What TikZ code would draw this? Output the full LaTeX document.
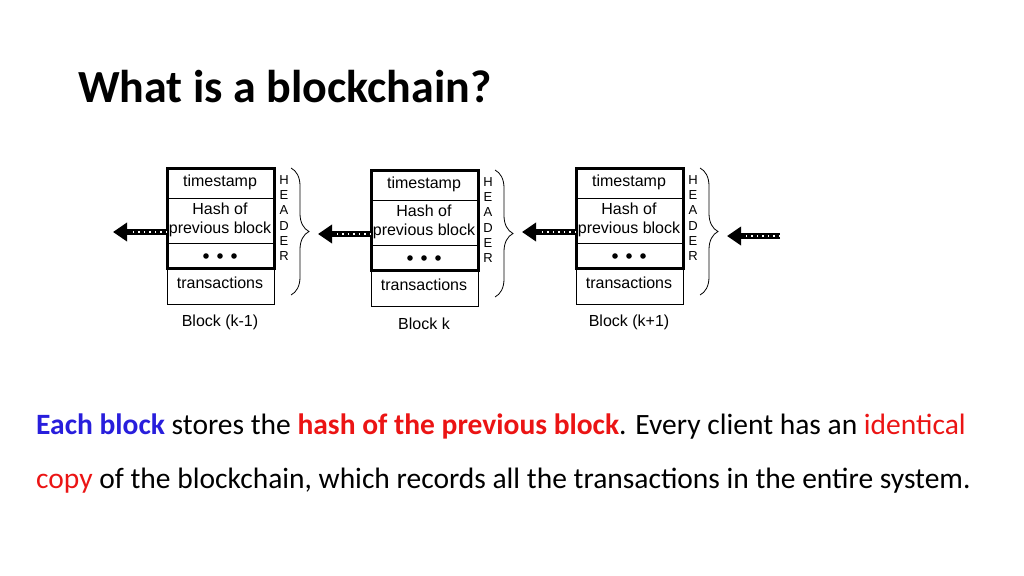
\documentclass[tikz,border=0pt]{standalone}
\usepackage{fontspec}
\setmainfont{Carlito}
\newfontfamily\diag{Liberation Sans}
\usetikzlibrary{arrows.meta,decorations.pathreplacing,calc}
\definecolor{eblue}{RGB}{40,30,220}
\definecolor{ered}{RGB}{235,20,20}
\begin{document}
\begin{tikzpicture}[x=1pt,y=-1pt,
  cell/.style={draw,line width=0.8pt},
  hdr/.style={draw,line width=3pt},
  lbl/.style={font=\diag\fontsize{16}{18.5}\selectfont,inner sep=0},
  chain/.style={line width=6pt,-{Triangle[length=14pt,width=18pt]}},
  dots/.style={white,line width=1.2pt,dash pattern=on 1.5pt off 4pt}]
\useasboundingbox (0,0) rectangle (1024,575);
\node[anchor=west,font=\bfseries\fontsize{46}{50}\selectfont,inner sep=0] (title) at (78,87) {What is a blockchain?};
\foreach \n/\x/\y/\name in {a/167/168/Block (k-1),b/371/170/Block k,c/576/168/Block (k+1)}{
  \draw[cell] (\x,\y+100) rectangle (\x+107,\y+136);
  \draw[cell] (\x,\y+30) -- (\x+107,\y+30);
  \draw[cell] (\x,\y+75) -- (\x+107,\y+75);
  \draw[hdr] (\x,\y) rectangle (\x+107,\y+100);
  \coordinate (\n L) at (\x,\y+64);
  \node[lbl] (\n t) at (\x+53,\y+14) {timestamp};
  \node[lbl,align=center] (\n h) at (\x+53,\y+52) {Hash of\\previous block};
  \foreach \d in {-14,0,14}{\fill (\x+53+\d,\y+88) circle (2.8pt);}
  \node[lbl] (\n x) at (\x+53,\y+115) {transactions};
  \node[lbl] (\n n) at (\x+53,\y+154) {\name};
  \node[lbl,font=\diag\fontsize{13}{15.3}\selectfont,align=center] (\n H) at (\x+117,\y+50) {H\\E\\A\\D\\E\\R};
  \draw[line width=0.8pt,decorate,decoration={brace,amplitude=18pt}] (\x+124,\y) -- (\x+124,\y+127);
  \coordinate (\n T) at (\x+151,\y+64);
}
\coordinate (s) at (113,232);
\coordinate (e) at (780,236);
\foreach \p/\q in {aL/s,bL/aT,cL/bT,e/cT}{
  \draw[chain] (\p) -- (\q |- \p);
  \draw[dots] (\p) -- ($(\p)!0.7!(\q |- \p)$);
}
\node[anchor=west,inner sep=0,font=\fontsize{29.5}{34}\selectfont] (l1) at (36,427) {\textbf{\color{eblue}Each block} stores the \textbf{\color{ered}hash of the previous block}. Every client has an {\color{ered}identical}};
\node[anchor=west,inner sep=0,font=\fontsize{29.5}{34}\selectfont] (l2) at (36,481) {{\color{ered}copy} of the blockchain, which records all the transactions in the entire system.};
\end{tikzpicture}
\end{document}
